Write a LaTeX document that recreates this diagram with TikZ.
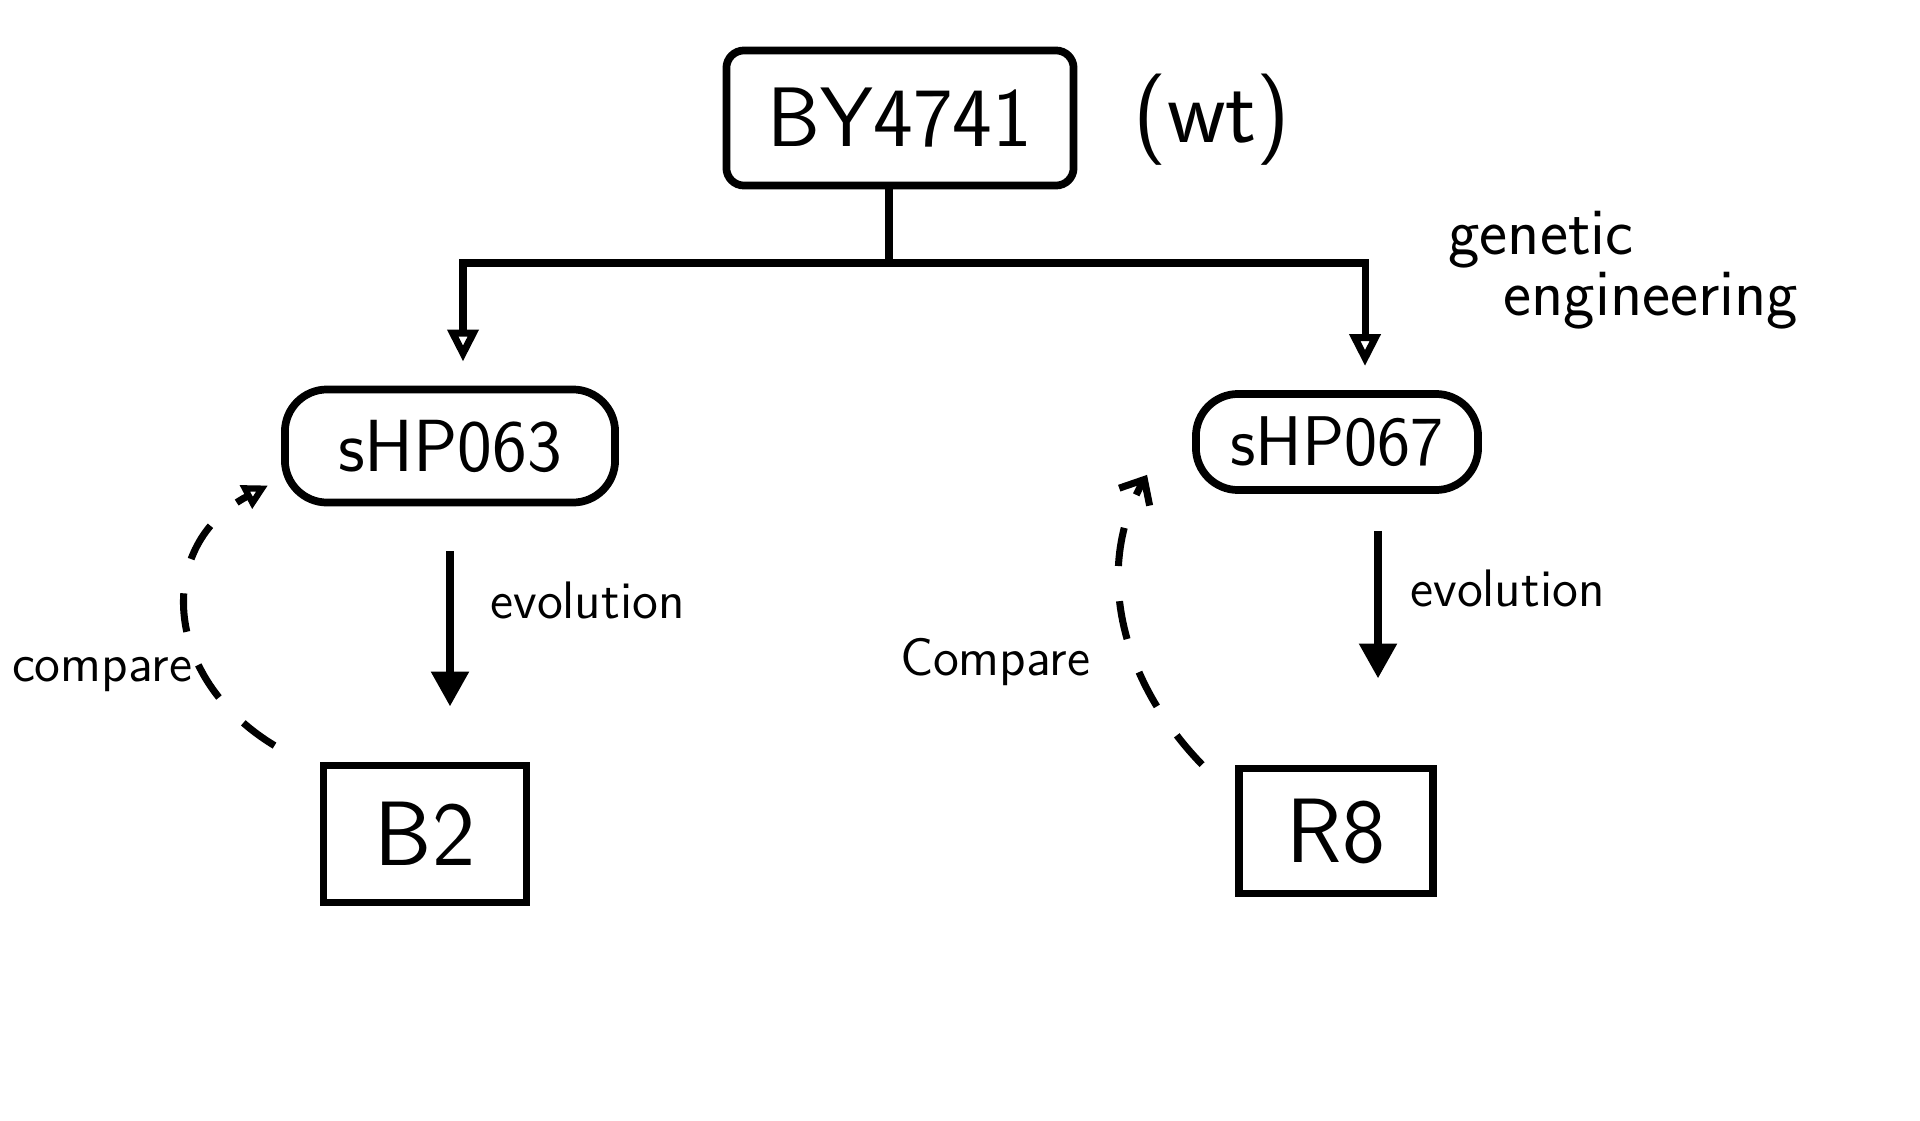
\documentclass[tikz,border=0pt]{standalone}
\usepackage{tikz}
\usetikzlibrary{arrows.meta}
\renewcommand{\familydefault}{\sfdefault}
\newcommand{\fsize}[1]{\fontsize{#1}{#1}\selectfont}

\begin{document}
\begin{tikzpicture}[x=0.01cm, y=-0.01cm,
    box/.style={draw, line width=2.2pt, inner sep=0pt},
    lbl/.style={font=\fsize{15pt}},
    tree/.style={line width=2pt, -{Triangle[open, length=0.32cm, width=0.3cm]}},
    evo/.style={line width=2.4pt, -{Triangle[length=0.35cm, width=0.36cm]}},
    cmp/.style={line width=2pt, dash pattern=on 11pt off 10pt}]
    \useasboundingbox (0,0) rectangle (1920,1121);

    % strains
    \node [box, rounded corners=5pt, minimum width=3.47cm, minimum height=1.35cm, font=\fsize{24pt}] (wt) at (900,118) {BY4741};
    \node [font=\fsize{26pt}] (wtlbl) at (1212,120) {(wt)};
    \node [box, rounded corners=12pt, minimum width=3.3cm, minimum height=1.13cm, font=\fsize{21pt}] (s63) at (450,446) {sHP063};
    \node [box, rounded corners=12pt, minimum width=2.82cm, minimum height=0.96cm, font=\fsize{20pt}] (s67) at (1337,442) {sHP067};
    \node [box, minimum width=2.03cm, minimum height=1.37cm, font=\fsize{26pt}] (b2) at (425,834) {B2};
    \node [box, minimum width=1.94cm, minimum height=1.25cm, font=\fsize{26pt}] (r8) at (1336,831) {R8};

    % genetic engineering
    \coordinate (fork) at (889,263);
    \draw [line width=2pt] (wt.south -| fork) -- (fork);
    \draw [tree, shorten >=0.24cm] (fork) -| ([xshift=0.13cm]s63.north);
    \draw [tree, shorten >=0.24cm] (fork) -| ([xshift=0.28cm]s67.north);
    \node [font=\fontsize{19pt}{14.5pt}\selectfont, align=left, anchor=west] (ge) at (1436,270) {genetic\\\hspace*{0.55cm}engineering};

    % evolution
    \draw [evo, shorten <=0.45cm, shorten >=0.55cm] (s63.south) -- (s63.south |- b2.north);
    \draw [evo, shorten <=0.37cm, shorten >=0.86cm] ([xshift=0.41cm]s67.south) -- ([xshift=0.41cm]s67.south |- r8.north);
    \node [lbl, anchor=west] (evo63) at (478,600) {evolution};
    \node [lbl, anchor=west] (evo67) at (1398,588) {evolution};

    % compare
    \draw [cmp, -{Triangle[open, length=0.25cm, width=0.25cm]}] ([xshift=-0.45cm, yshift=0.16cm]b2.north west)
        .. controls +(-114,-69) and +(-112,59) .. ([xshift=-0.13cm, yshift=0.21cm]s63.south west);
    \draw [cmp, -{Straight Barb[length=0.2cm, width=0.35cm]}] ([xshift=-0.33cm]r8.north west)
        .. controls +(-86,-89) and +(-51,89) .. ([xshift=-0.45cm, yshift=0.19cm]s67.south west);
    \node [lbl] (cmp63) at (102,675) {compare};
    \node [lbl] (cmp67) at (995,662) {Compare};
\end{tikzpicture}
\end{document}
